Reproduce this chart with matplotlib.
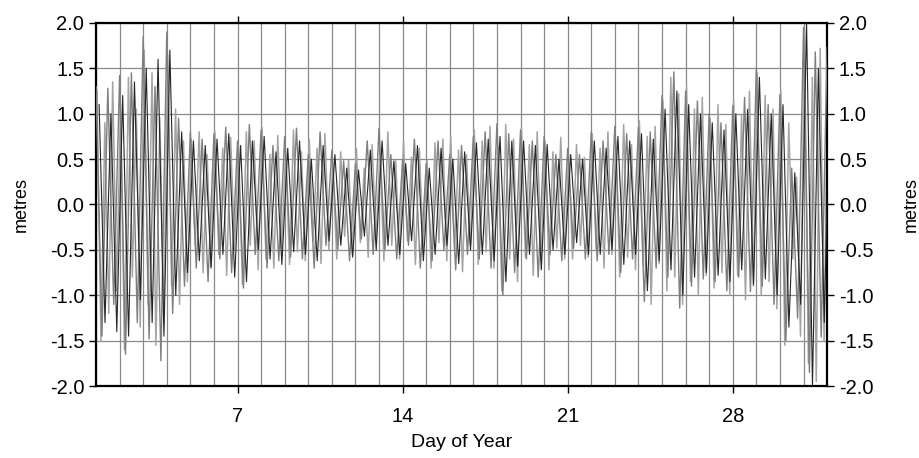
import matplotlib
matplotlib.use("Agg")
import matplotlib.pyplot as plt
import numpy as np

plt.rcParams['font.family'] = ['Liberation Sans', 'DejaVu Sans']

# tide extremes, 6-hourly (high, low, high, low per day), day 1 .. 32
grey = [1.30, -1.45, 1.28, -1.10,  1.42, -1.65, 1.45, -1.30,
        1.85, -1.48, 1.30, -1.72,  1.90, -1.20, 0.95, -0.90,
        0.80, -0.70, 0.72, -0.85,  0.78, -0.60, 0.85, -0.75,
        0.70, -0.92, 0.88, -0.55,  0.82, -0.70, 0.65, -0.62,
        0.75, -0.58, 0.84, -0.60,  0.55, -0.70, 0.80, -0.45,
        0.60, -0.50, 0.48, -0.62,  0.45, -0.38, 0.70, -0.55,
        0.84, -0.50, 0.55, -0.60,  0.50, -0.45, 0.72, -0.70,
        0.45, -0.62, 0.70, -0.50,  0.55, -0.72, 0.65, -0.55,
        0.75, -0.60, 0.80, -0.70,  0.89, -1.00, 0.78, -0.75,
        0.82, -0.60, 0.70, -0.80,  0.75, -0.55, 0.55, -0.62,
        0.62, -0.48, 0.55, -0.60,  0.80, -0.62, 0.70, -0.55,
        0.86, -0.75, 0.78, -0.60,  0.85, -1.07, 0.80, -0.70,
        1.20, -0.80, 1.46, -1.14,  1.25, -0.90, 1.14, -0.82,
        1.00, -0.85, 0.90, -0.95,  1.09, -0.80, 1.18, -0.96,
        1.50, -0.90, 1.10, -1.10,  1.21, -1.50, 0.40, -1.25,
        1.95, -1.85, 1.68, -1.46,  1.73]

# 4-hourly extremes (six per day)
light = [1.25, -1.50, 0.90, -1.20, 1.35, -0.95,
         1.10, -1.60, 1.40, -0.80, 1.05, -1.35,
         1.70, -1.10, 1.45, -1.55, 0.95, -1.30,
         1.65, -0.90, 1.05, -1.10, 0.70, -0.85,
         0.72, -0.45, 0.80, -0.75, 0.55, -0.68,
         0.80, -0.55, 0.62, -0.78, 0.74, -0.50,
         0.66, -0.88, 0.80, -0.45, 0.70, -0.72,
         0.85, -0.60, 0.55, -0.70, 0.76, -0.48,
         0.60, -0.66, 0.82, -0.52, 0.58, -0.62,
         0.72, -0.40, 0.62, -0.65, 0.78, -0.50,
         0.45, -0.60, 0.58, -0.35, 0.50, -0.55,
         0.62, -0.42, 0.40, -0.58, 0.66, -0.38,
         0.55, -0.62, 0.80, -0.45, 0.48, -0.60,
         0.70, -0.40, 0.52, -0.66, 0.62, -0.48,
         0.48, -0.70, 0.68, -0.42, 0.72, -0.62,
         0.75, -0.50, 0.60, -0.74, 0.55, -0.45,
         0.82, -0.66, 0.70, -0.52, 0.86, -0.70,
         0.65, -0.95, 0.88, -0.60, 0.72, -0.85,
         0.84, -0.58, 0.66, -0.78, 0.80, -0.62,
         0.70, -0.72, 0.58, -0.48, 0.74, -0.60,
         0.55, -0.60, 0.66, -0.45, 0.52, -0.58,
         0.78, -0.50, 0.62, -0.70, 0.80, -0.55,
         0.70, -0.80, 0.88, -0.58, 0.66, -0.72,
         0.92, -0.68, 0.75, -1.10, 0.86, -0.65,
         1.15, -0.95, 1.40, -0.80, 1.22, -1.10,
         1.30, -0.85, 1.05, -1.00, 1.18, -0.78,
         0.95, -0.92, 1.10, -0.75, 0.88, -1.00,
         1.15, -0.78, 0.98, -1.05, 1.25, -0.90,
         1.45, -1.00, 1.20, -0.85, 1.05, -1.15,
         1.25, -1.55, 0.90, -0.60, 0.30, -1.45,
         1.90, -1.75, 1.40, -1.95, 1.72, -1.50,
         1.65]

black = [1.10, -1.30, 1.00, -1.40,  1.20, -1.45, 1.35, -1.05,
         1.50, -1.30, 1.60, -1.45,  1.70, -1.00, 0.80, -0.75,
         0.70, -0.62, 0.65, -0.70,  0.72, -0.55, 0.78, -0.80,
         0.65, -0.85, 0.70, -0.50,  0.75, -0.60, 0.58, -0.66,
         0.62, -0.52, 0.70, -0.55,  0.50, -0.62, 0.65, -0.40,
         0.55, -0.45, 0.40, -0.58,  0.38, -0.35, 0.60, -0.50,
         0.70, -0.45, 0.48, -0.55,  0.45, -0.40, 0.65, -0.62,
         0.40, -0.55, 0.62, -0.45,  0.50, -0.65, 0.58, -0.50,
         0.68, -0.55, 0.72, -0.62,  0.75, -0.85, 0.70, -0.68,
         0.70, -0.55, 0.65, -0.72,  0.66, -0.50, 0.50, -0.55,
         0.55, -0.42, 0.50, -0.55,  0.70, -0.55, 0.62, -0.50,
         0.75, -0.66, 0.70, -0.55,  0.78, -0.95, 0.72, -0.62,
         1.05, -0.72, 1.25, -1.00,  1.10, -0.80, 1.00, -0.75,
         0.90, -0.78, 0.82, -0.85,  1.00, -0.72, 1.05, -0.88,
         1.40, -0.82, 1.00, -1.00,  1.10, -1.35, 0.35, -1.10,
         2.00, -2.00, 1.50, -1.30,  1.55]

t_grey = 1 + 0.25 * np.arange(len(grey))
t_light = 1.04 + np.arange(len(light)) / 6.0
t_black = 1.13 + 0.25 * np.arange(len(black))

fig = plt.figure(figsize=(9.19, 4.58), dpi=100)
ax = fig.add_axes([0.1045, 0.157, 0.7955, 0.793])

ax.plot(t_light, light, color='#a4a4a4', lw=1.1, zorder=2)
ax.plot(t_grey, grey, color='#7e7e7e', lw=1.0, zorder=3)
ax.plot(t_black, black, color='#262626', lw=0.8, zorder=4)

ax.set_xlim(1, 32)
ax.set_ylim(-2, 2)
ax.set_xticks([7, 14, 21, 28])
ax.set_xticks(np.arange(1, 33), minor=True)
ax.set_yticks(np.arange(-2, 2.01, 0.5))
ax.set_yticklabels(['%.1f' % v for v in np.arange(-2, 2.01, 0.5)])
ax.grid(which='both', axis='x', color='#8a8a8a', lw=0.9, zorder=1)
ax.grid(which='major', axis='y', color='#8a8a8a', lw=0.9, zorder=1)
ax.tick_params(which='major', direction='out', length=5, width=1,
               top=True, right=True, labelright=True, labelsize=14.5)
ax.tick_params(axis='x', which='major', pad=10)
ax.tick_params(which='minor', length=0)
for s in ax.spines.values():
    s.set_linewidth(1.6)

ax.set_xlabel('Day of Year', fontsize=14, labelpad=6)
ax.set_ylabel('metres', fontsize=13, labelpad=14)
ax.text(1.115, 0.5, 'metres', rotation=90, transform=ax.transAxes,
        ha='center', va='center', fontsize=13)

fig.savefig('out.png', dpi=100)
